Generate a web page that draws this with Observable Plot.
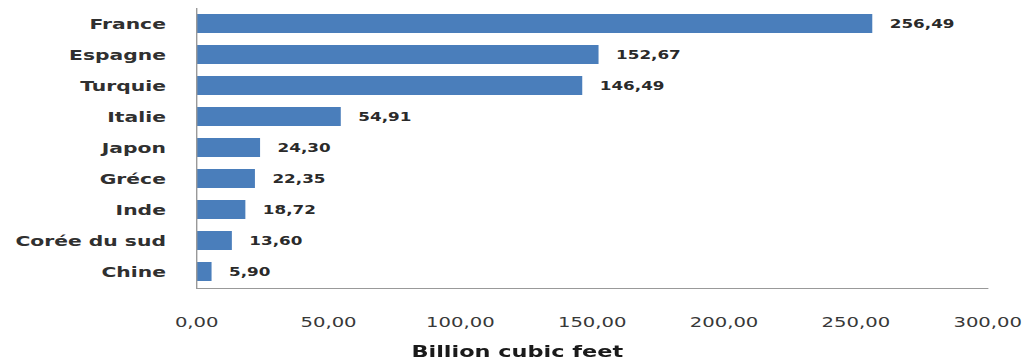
<!DOCTYPE html>
<html><head><meta charset="utf-8">
<script src="https://cdn.jsdelivr.net/npm/d3@7"></script>
<script src="https://cdn.jsdelivr.net/npm/@observablehq/plot@0.6"></script>
<style>
body{margin:0;background:#fff}
#wrap{width:739px;transform:scale(1.4,1);transform-origin:0 0}
#xtitle{height:25px;line-height:27px;text-align:center;font-family:"DejaVu Sans",sans-serif;font-weight:bold;font-size:16px;color:#1a1a1a}
</style>
</head><body>
<div id="wrap"><div id="chart"></div><div id="xtitle"></div></div>
<script>
const countries = ["France","Espagne","Turquie","Italie","Japon","Gréce","Inde","Corée du sud","Chine"];
const values = [256.49,152.67,146.49,54.91,24.30,22.35,18.72,13.60,5.90];
const tickValues = [0,50,100,150,200,250,300];
const axisTitle = "Billion cubic feet";

const data = countries.map((c,i)=>({country:c, value:values[i]}));
const fmt = v => d3.format(".2f")(v).replace(".", ",");

const chart = Plot.plot({
  width: 739, height: 338,
  marginLeft: 140, marginRight: 34, marginTop: 8, marginBottom: 50,
  style: {fontFamily: "DejaVu Sans", background: "#fff"},
  x: {domain: [0, 300]},
  y: {domain: countries, paddingInner: 0.38, paddingOuter: 0.2},
  marks: [
    Plot.barX(data, {x: "value", y: "country", fill: "#4a7ebb"}),
    Plot.text(data, {x: "value", y: "country", text: d => fmt(d.value), textAnchor: "start", dx: 12, fontSize: 12, fontWeight: "bold", fill: "#2a2a2a"}),
    Plot.axisX({ticks: tickValues, tickFormat: fmt, tickSize: 0, tickPadding: 29, fontSize: 14, color: "#383838", label: null}),
    Plot.axisY({tickSize: 0, tickPadding: 22, fontSize: 14.5, fontWeight: "bold", color: "#303030", label: null}),
    Plot.frame({anchor: "left", stroke: "#999"}),
    Plot.frame({anchor: "bottom", stroke: "#999"})
  ]
});
document.getElementById("chart").append(chart);
document.getElementById("xtitle").textContent = axisTitle;
</script>
</body></html>
